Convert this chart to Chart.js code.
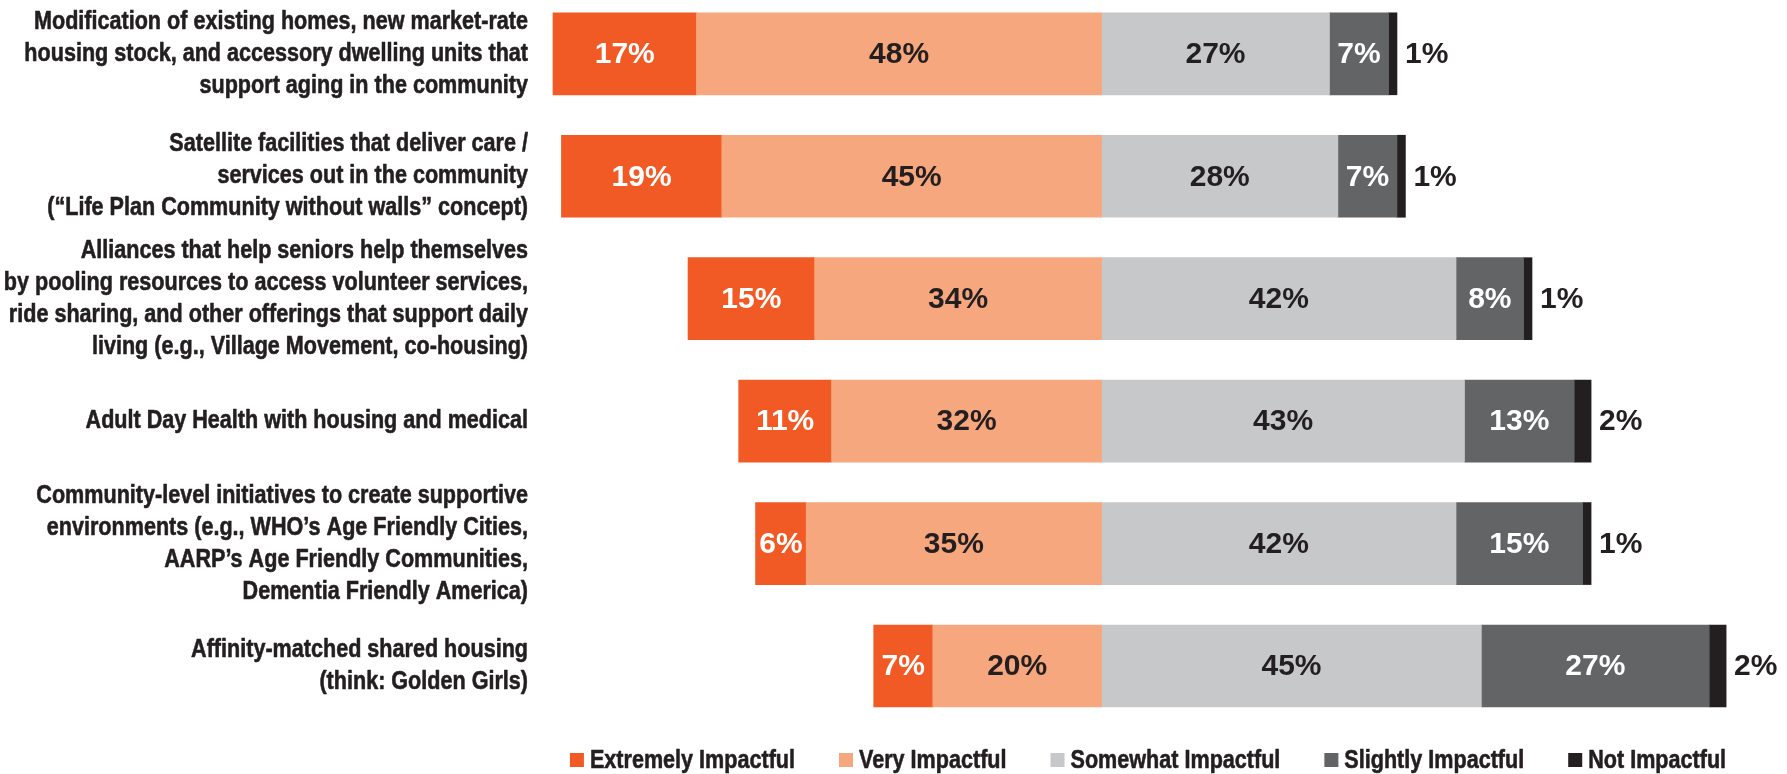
<!DOCTYPE html>
<html>
<head>
<meta charset="utf-8">
<script src="https://cdn.jsdelivr.net/npm/chart.js@4.4.1/dist/chart.umd.min.js"></script>
<style>
  html, body { margin: 0; padding: 0; background: #ffffff; overflow: hidden; }
  #wrap { position: relative; width: 1787px; height: 774px; }
</style>
</head>
<body>
<div id="wrap"><canvas id="chart"></canvas></div>
<script>
// Strategy ratings, percent of respondents per impact level
const categories = [
  ["Modification of existing homes, new market-rate", "housing stock, and accessory dwelling units that", "support aging in the community"],
  ["Satellite facilities that deliver care /", "services out in the community", "(\u201CLife Plan Community without walls\u201D concept)"],
  ["Alliances that help seniors help themselves", "by pooling resources to access volunteer services,", "ride sharing, and other offerings that support daily", "living (e.g., Village Movement, co-housing)"],
  ["Adult Day Health with housing and medical"],
  ["Community-level initiatives to create supportive", "environments (e.g., WHO\u2019s Age Friendly Cities,", "AARP\u2019s Age Friendly Communities,", "Dementia Friendly America)"],
  ["Affinity-matched shared housing", "(think: Golden Girls)"]
];

const seriesNames = ["Extremely Impactful", "Very Impactful", "Somewhat Impactful", "Slightly Impactful", "Not Impactful"];

const extremely = [17, 19, 15, 11, 6, 7];
const very      = [48, 45, 34, 32, 35, 20];
const somewhat  = [27, 28, 42, 43, 42, 45];
const slightly  = [7, 7, 8, 13, 15, 27];
const notImpact = [1, 1, 1, 2, 1, 2];

const COLORS = ["#F15A24", "#F7A77D", "#C7C8CA", "#636466", "#231F20"];
const DARK = "#231F20";
const SANS = "'Liberation Sans', Arial, sans-serif";
// condensed, heavy look for the category and legend text
const LABEL_FONT = "bold 26px " + SANS;
const SQUEEZE = 0.83;
const LINE_H = 32;

// Positive-impact answers run left of zero, the rest to the right.
const neg = arr => arr.map(v => -v);

const barBase = { barThickness: 82, borderWidth: 0, clip: false, stack: "s" };

const datasets = [
  // "Very" comes first so it stacks next to the zero line
  Object.assign({ label: seriesNames[1], data: neg(very), backgroundColor: COLORS[1], labelColor: DARK, rank: 1 }, barBase),
  Object.assign({ label: seriesNames[0], data: neg(extremely), backgroundColor: COLORS[0], labelColor: "#ffffff", rank: 0 }, barBase),
  Object.assign({ label: seriesNames[2], data: somewhat, backgroundColor: COLORS[2], labelColor: DARK, rank: 2 }, barBase),
  Object.assign({ label: seriesNames[3], data: slightly, backgroundColor: COLORS[3], labelColor: "#ffffff", rank: 3 }, barBase),
  Object.assign({ label: seriesNames[4], data: notImpact, backgroundColor: COLORS[4], labelColor: DARK, rank: 4, outside: true }, barBase)
];

function squeezedText(ctx, text, x, y, align) {
  ctx.save();
  ctx.translate(x, y);
  ctx.scale(SQUEEZE, 1);
  ctx.textAlign = align;
  ctx.lineWidth = 0.6;
  ctx.lineJoin = "round";
  ctx.strokeStyle = ctx.fillStyle;
  ctx.fillText(text, 0, 0);
  ctx.strokeText(text, 0, 0);
  ctx.restore();
}

// Percent labels centred on each segment; the last segment's label sits just past the bar end
const valueLabels = {
  id: "valueLabels",
  afterDatasetsDraw(chart) {
    const ctx = chart.ctx;
    ctx.save();
    ctx.font = "bold 30px " + SANS;
    ctx.textBaseline = "middle";
    chart.data.datasets.forEach((ds, di) => {
      const meta = chart.getDatasetMeta(di);
      if (meta.hidden) return;
      meta.data.forEach((bar, i) => {
        const text = Math.abs(ds.data[i]) + "%";
        const left = Math.min(bar.x, bar.base);
        const right = Math.max(bar.x, bar.base);
        ctx.fillStyle = ds.labelColor;
        if (ds.outside) {
          ctx.textAlign = "left";
          ctx.fillText(text, right + 8, bar.y + 1);
        } else {
          ctx.textAlign = "center";
          ctx.fillText(text, (left + right) / 2, bar.y + 1);
        }
      });
    });
    ctx.restore();
  }
};

// Multi-line category names, right-aligned against the bars
const categoryLabels = {
  id: "categoryLabels",
  afterDraw(chart) {
    const ctx = chart.ctx;
    const yScale = chart.scales.y;
    const xRight = chart.chartArea.left - 25;
    ctx.save();
    ctx.font = LABEL_FONT;
    ctx.fillStyle = DARK;
    ctx.textBaseline = "middle";
    categories.forEach((lines, i) => {
      const yc = yScale.getPixelForValue(i);
      const top = yc - (lines.length - 1) * LINE_H / 2;
      lines.forEach((line, k) => squeezedText(ctx, line, xRight, top + k * LINE_H, "right"));
    });
    ctx.restore();
  }
};

// Legend row centred under the plot area
const legendRow = {
  id: "legendRow",
  afterDraw(chart) {
    const ctx = chart.ctx;
    const area = chart.chartArea;
    const box = 14, textGap = 6, itemGap = 44, y = 760;
    const order = datasets.slice().sort((a, b) => a.rank - b.rank);
    ctx.save();
    ctx.font = LABEL_FONT;
    ctx.textBaseline = "middle";
    const widths = order.map(ds => box + textGap + ctx.measureText(ds.label).width * SQUEEZE);
    const total = widths.reduce((s, w) => s + w, 0) + itemGap * (order.length - 1);
    let x = (area.left + area.right) / 2 - total / 2;
    order.forEach((ds, i) => {
      ctx.fillStyle = ds.backgroundColor;
      ctx.fillRect(x, y - box / 2, box, box);
      ctx.fillStyle = DARK;
      squeezedText(ctx, ds.label, x + box + textGap, y + 1, "left");
      x += widths[i] + itemGap;
    });
    ctx.restore();
  }
};

new Chart(document.getElementById("chart"), {
  type: "bar",
  data: { labels: categories.map(l => l.join(" ")), datasets: datasets },
  options: {
    indexAxis: "y",
    responsive: true,
    maintainAspectRatio: false,
    animation: false,
    events: [],
    layout: { padding: { top: 53.8, right: 44, bottom: 108, left: 553 } },
    scales: {
      x: { stacked: true, min: -65, max: 76, display: false },
      y: { stacked: true, offset: false, display: false }
    },
    plugins: {
      tooltip: { enabled: false },
      legend: { display: false }
    }
  },
  plugins: [valueLabels, categoryLabels, legendRow]
});
</script>
</body>
</html>
